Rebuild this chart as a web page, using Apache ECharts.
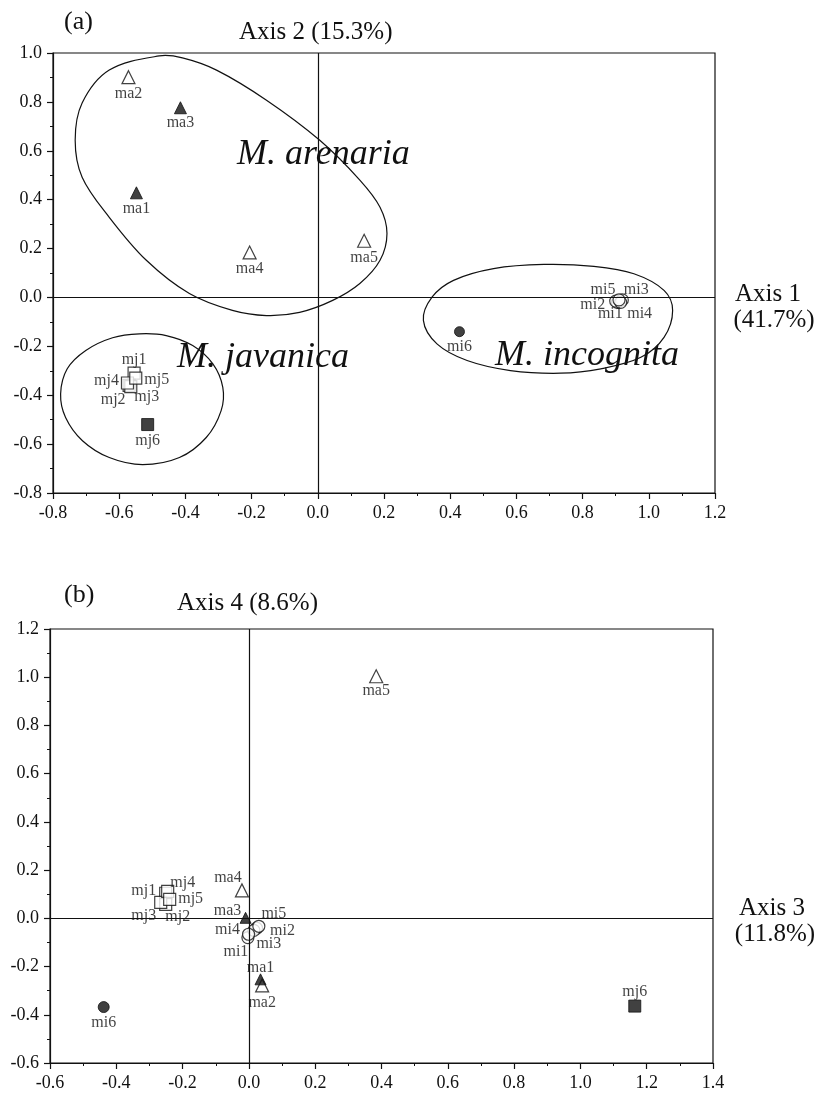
<!DOCTYPE html>
<html>
<head>
<meta charset="utf-8">
<script src="https://cdn.jsdelivr.net/npm/echarts@6/dist/echarts.min.js"></script>
<style>
  html, body { margin: 0; padding: 0; background: #fff; }
  #chart { width: 832px; height: 1093px; }
</style>
</head>
<body>
<div id="chart"></div>
<script>
// ---- panel (a): Axis 1 (x) vs Axis 2 (y)
const namesMa = ['ma1', 'ma2', 'ma3', 'ma4', 'ma5'];
const namesMi = ['mi1', 'mi2', 'mi3', 'mi4', 'mi5', 'mi6'];
const namesMj = ['mj1', 'mj2', 'mj3', 'mj4', 'mj5', 'mj6'];
const filledNames = ['ma1', 'ma3', 'mi6', 'mj6'];

const maAxis1 = [-0.548, -0.572, -0.415, -0.206, 0.140];
const maAxis2 = [0.428, 0.901, 0.776, 0.184, 0.232];
const miAxis1 = [0.905, 0.900, 0.920, 0.915, 0.910, 0.428];
const miAxis2 = [-0.020, -0.015, -0.010, -0.020, -0.010, -0.140];
const mjAxis1 = [-0.555, -0.570, -0.565, -0.575, -0.550, -0.514];
const mjAxis2 = [-0.310, -0.360, -0.365, -0.350, -0.330, -0.520];

// ---- panel (b): Axis 3 (x) vs Axis 4 (y)
const maAxis3 = [0.035, 0.040, -0.010, -0.021, 0.384];
const maAxis4 = [-0.253, -0.278, 0.002, 0.116, 1.004];
const miAxis3 = [-0.003, 0.023, 0.015, -0.001, 0.030, -0.438];
const miAxis4 = [-0.080, -0.041, -0.050, -0.066, -0.033, -0.368];
const mjAxis3 = [-0.251, -0.251, -0.266, -0.245, -0.239, 1.164];
const mjAxis4 = [0.104, 0.058, 0.066, 0.112, 0.079, -0.364];

// group outlines drawn by hand in panel (a), [axis1, axis2]
const arenariaOutline = [[-0.479, 0.988], [-0.630, 0.930], [-0.712, 0.795], [-0.733, 0.643], [-0.712, 0.492],
  [-0.630, 0.328], [-0.518, 0.152], [-0.388, 0.016], [-0.258, -0.053], [-0.155, -0.074], [-0.055, -0.061],
  [0.045, -0.012], [0.127, 0.057], [0.188, 0.152], [0.209, 0.262], [0.188, 0.369], [0.127, 0.480],
  [0.006, 0.643], [-0.155, 0.807], [-0.306, 0.930], [-0.409, 0.980]];
const incognitaOutline = [[0.319, -0.094], [0.345, 0.001], [0.410, 0.070], [0.531, 0.118], [0.683, 0.135],
  [0.834, 0.127], [0.955, 0.097], [1.046, 0.029], [1.072, -0.053], [1.046, -0.163], [0.976, -0.245],
  [0.855, -0.292], [0.733, -0.310], [0.582, -0.299], [0.451, -0.258], [0.360, -0.190]];
const javanicaOutline = [[-0.777, -0.395], [-0.757, -0.292], [-0.701, -0.217], [-0.620, -0.165], [-0.539, -0.149],
  [-0.458, -0.156], [-0.378, -0.197], [-0.317, -0.272], [-0.287, -0.368], [-0.292, -0.463], [-0.337, -0.573],
  [-0.418, -0.655], [-0.529, -0.684], [-0.630, -0.655], [-0.711, -0.586], [-0.762, -0.491]];

// label offsets (px, from marker centre)
const labelOffsetA = {
  ma1: [0, 16], ma2: [0, 17], ma3: [0, 15], ma4: [0, 16], ma5: [0, 17],
  mi1: [-7, 11], mi2: [-23, 4], mi3: [14, -10], mi4: [19, 11], mi5: [-16, -10], mi6: [0, 15],
  mj1: [0, -13], mj2: [-16, 14], mj3: [16, 10], mj4: [-21, -2], mj5: [21, 2], mj6: [0, 16]
};
const labelOffsetB = {
  ma1: [0, -12], ma2: [0, 17], ma3: [-18, -7], ma4: [-14, -13], ma5: [0, 15],
  mi1: [-12, 14], mi2: [26, 3], mi3: [15, 13], mi4: [-21, -4], mi5: [15, -12], mi6: [0, 16],
  mj1: [-22, -2], mj2: [12, 12], mj3: [-17, 13], mj4: [15, -9], mj5: [21, 0], mj6: [0, -14]
};

const INK = '#111';
const SERIF = '"Liberation Serif", "Times New Roman", serif';

const chart = echarts.init(document.getElementById('chart'));

function points(names, xs, ys, filled, offsets) {
  const out = [];
  for (let i = 0; i < names.length; i++) {
    const isFilled = filledNames.indexOf(names[i]) >= 0;
    if (isFilled !== filled) continue;
    out.push({
      name: names[i],
      value: [xs[i], ys[i]],
      label: { offset: offsets[names[i]] }
    });
  }
  return out;
}

function scatter(grid, names, xs, ys, filled, symbol, size, offsets) {
  return {
    type: 'scatter',
    xAxisIndex: grid, yAxisIndex: grid,
    symbol: symbol,
    symbolSize: size,
    itemStyle: filled
      ? { color: INK, borderColor: INK, borderWidth: 1 }
      : { color: '#fff', borderColor: INK, borderWidth: 1.2 },
    label: {
      show: true, position: 'inside', formatter: '{b}',
      color: INK, fontFamily: SERIF, fontSize: 16
    },
    emphasis: { disabled: true },
    z: 3,
    data: points(names, xs, ys, filled, offsets)
  };
}

function outline(path) {
  return {
    type: 'custom',
    xAxisIndex: 0, yAxisIndex: 0,
    silent: true,
    z: 1,
    data: [[0, 0]],
    renderItem: function (params, api) {
      return {
        type: 'polygon',
        shape: { points: path.map(p => api.coord(p)), smooth: 0.35 },
        style: { fill: 'none', stroke: INK, lineWidth: 1.2 }
      };
    }
  };
}

function zeroLines(grid) {
  return {
    type: 'scatter', xAxisIndex: grid, yAxisIndex: grid, data: [],
    markLine: {
      silent: true, symbol: ['none', 'none'], label: { show: false },
      lineStyle: { color: INK, width: 1.2, type: 'solid' },
      data: [{ xAxis: 0 }, { yAxis: 0 }]
    }
  };
}

function valueAxis(grid, min, max) {
  return {
    type: 'value', gridIndex: grid, min: min, max: max, interval: 0.2,
    axisLine: { show: true, onZero: false, lineStyle: { color: INK, width: 1.2 } },
    axisTick: { show: true, length: 6, lineStyle: { color: INK, width: 1.2 } },
    minorTick: { show: true, splitNumber: 2, length: 3, lineStyle: { color: INK, width: 1 } },
    splitLine: { show: false },
    axisLabel: {
      color: INK, fontFamily: SERIF, fontSize: 18, margin: 11,
      formatter: v => v.toFixed(1)
    }
  };
}

function txt(x, y, text, size, align, italic) {
  return {
    type: 'text', x: x, y: y,
    style: {
      text: text, fill: INK, align: align || 'left', verticalAlign: 'middle',
      font: (italic ? 'italic ' : '') + size + 'px ' + SERIF
    }
  };
}

const option = {
  backgroundColor: '#fff',
  animation: false,
  grid: [
    { left: 53, top: 53, width: 662, height: 440, show: true, borderColor: INK, borderWidth: 1.2 },
    { left: 50, top: 629, width: 663, height: 434, show: true, borderColor: INK, borderWidth: 1.2 }
  ],
  xAxis: [valueAxis(0, -0.8, 1.2), valueAxis(1, -0.6, 1.4)],
  yAxis: [valueAxis(0, -0.8, 1.0), valueAxis(1, -0.6, 1.2)],
  graphic: [
    txt(64, 22, '(a)', 26),
    txt(239, 32, 'Axis 2 (15.3%)', 25),
    txt(768, 294, 'Axis 1', 25, 'center'),
    txt(774, 320, '(41.7%)', 25, 'center'),
    txt(237, 155, 'M. arenaria', 36, 'left', true),
    txt(177, 358, 'M. javanica', 36, 'left', true),
    txt(495, 356, 'M. incognita', 36, 'left', true),
    txt(64, 595, '(b)', 26),
    txt(177, 603, 'Axis 4 (8.6%)', 25),
    txt(772, 908, 'Axis 3', 25, 'center'),
    txt(775, 934, '(11.8%)', 25, 'center')
  ],
  series: [
    outline(arenariaOutline),
    outline(incognitaOutline),
    outline(javanicaOutline),
    zeroLines(0),
    zeroLines(1),
    scatter(0, namesMa, maAxis1, maAxis2, false, 'triangle', 13, labelOffsetA),
    scatter(0, namesMa, maAxis1, maAxis2, true, 'triangle', 12, labelOffsetA),
    scatter(0, namesMi, miAxis1, miAxis2, false, 'circle', 12, labelOffsetA),
    scatter(0, namesMi, miAxis1, miAxis2, true, 'circle', 10, labelOffsetA),
    scatter(0, namesMj, mjAxis1, mjAxis2, false, 'rect', 12, labelOffsetA),
    scatter(0, namesMj, mjAxis1, mjAxis2, true, 'rect', 12, labelOffsetA),
    scatter(1, namesMa, maAxis3, maAxis4, false, 'triangle', 13, labelOffsetB),
    scatter(1, namesMa, maAxis3, maAxis4, true, 'triangle', 11, labelOffsetB),
    scatter(1, namesMi, miAxis3, miAxis4, false, 'circle', 12, labelOffsetB),
    scatter(1, namesMi, miAxis3, miAxis4, true, 'circle', 11, labelOffsetB),
    scatter(1, namesMj, mjAxis3, mjAxis4, false, 'rect', 12, labelOffsetB),
    scatter(1, namesMj, mjAxis3, mjAxis4, true, 'rect', 12, labelOffsetB)
  ]
};

chart.setOption(option);
</script>
</body>
</html>
